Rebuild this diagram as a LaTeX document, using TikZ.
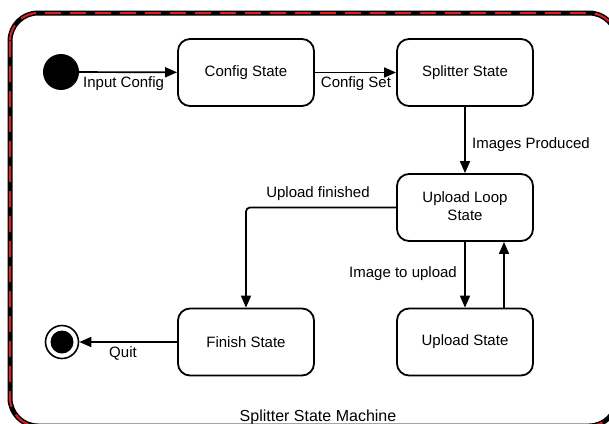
\documentclass[tikz,border=0pt]{standalone}
\usepackage{fontspec}
\setmainfont{Liberation Sans}
\usetikzlibrary{arrows.meta}
\definecolor{framered}{RGB}{222,30,34}
\begin{document}
\begin{tikzpicture}[x=1pt,y=-1pt,
  state/.style={draw, line width=1.8pt, rounded corners=12pt,
    minimum width=136pt, minimum height=67pt, align=center, inner sep=0pt,
    font=\fontsize{15}{18}\selectfont},
  lbl/.style={font=\fontsize{15}{18}\selectfont, inner sep=0pt},
  flow/.style={line width=1.7pt, -{Triangle[length=12pt,width=10pt]}},
  thinflow/.style={line width=1.2pt, -{Triangle[length=12pt,width=10pt]}},
]
\clip (0,0) rectangle (609,423);

% outer frame: black band with red dashes on top
\draw[line width=5pt, rounded corners=28pt] (10,13) rectangle (617,426);
\draw[framered, line width=2pt, dash pattern=on 16pt off 9pt, rounded corners=28pt]
  (10,13) rectangle (617,426);

% pseudo states
\node[circle, fill=black, minimum size=36pt, inner sep=0pt] (start) at (61,72) {};
\node[circle, draw, line width=1.6pt, fill=white, minimum size=33pt, inner sep=0pt,
  path picture={\fill[black] (path picture bounding box.center) circle (11.5pt);}]
  (stop) at (62,342) {};

% states
\node[state] (config)   at (246,72.5)  {Config State};
\node[state] (splitter) at (465,72.5)  {Splitter State};
\node[state] (loop)     at (465,207.5) {\raisebox{1.5pt}{\begin{tabular}{@{}c@{}}Upload Loop\\State\end{tabular}}};
\node[state] (finish)   at (246,342)   {Finish State};
\node[state] (upload)   at (465,342)   {Upload State};

% transitions
\draw[flow] (start) -- (config);
\draw[flow] (config) -- (splitter);
\draw[flow] (splitter) -- (loop);
\draw[flow, rounded corners=4pt] (loop.west) -| (finish.north);
\draw[flow] (loop.south) -- (upload.north);
\draw[thinflow] ([xshift=39pt]upload.north) -- ([xshift=39pt]loop.south);
\draw[flow] (finish) -- (stop);

% transition labels
\node[lbl, anchor=base west] (lin)   at (83,87)   {Input Config};
\node[lbl, anchor=base]      (lset)  at (356,87)  {Config Set};
\node[lbl, anchor=base west] (limg)  at (472,148) {Images Produced};
\node[lbl, anchor=base]      (lfin)  at (318,197) {Upload finished};
\node[lbl, anchor=base east] (lup)   at (457,277) {Image to upload};
\node[lbl, anchor=base]      (lquit) at (123,357) {Quit};

% caption
\node[font=\fontsize{16}{19}\selectfont, inner sep=0pt, anchor=base] (cap)
  at (318,421) {Splitter State Machine};
\end{tikzpicture}
\end{document}
